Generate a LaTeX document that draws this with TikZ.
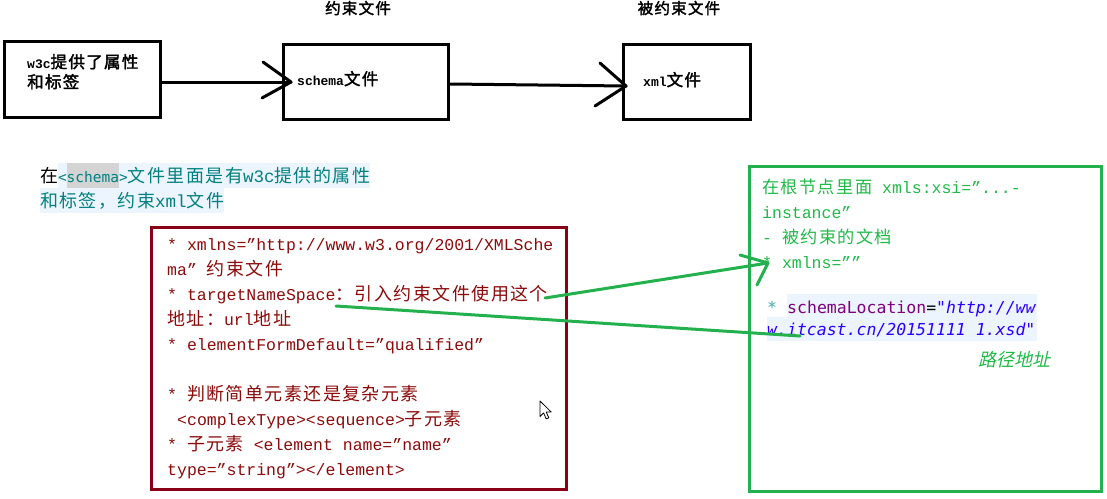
\documentclass[tikz,border=0pt]{standalone}
\usepackage{fontspec}
\setmainfont{Liberation Mono}
\newfontfamily\zhA[LetterSpace=8,AutoFakeBold=2]{Noto Sans CJK SC}
\newfontfamily\zhI[FakeSlant=0.22]{Noto Sans CJK SC}
\newfontfamily\cmono{DejaVu Sans Mono}
\newcommand\zhtxt[1]{{\zhA\fontsize{18}{25}\selectfont#1}}
\newcommand\zhgtxt[1]{{\zhA\fontsize{17.2}{25}\selectfont#1}}
\newcommand\zhbtxt[1]{{\zhA\bfseries\fontsize{16.5}{22}\selectfont#1}}
\newcommand\codefont{\cmono\fontsize{16.5}{25}\selectfont}
\newcommand\tagfont{\cmono\fontsize{14.5}{25}\selectfont}

\definecolor{boxred}{HTML}{880015}
\definecolor{paintgreen}{HTML}{22B14C}
\definecolor{redtext}{RGB}{140,10,10}
\definecolor{greentext}{RGB}{30,185,70}
\definecolor{tealtext}{RGB}{0,128,128}
\definecolor{hlblue}{RGB}{236,245,253}
\definecolor{hlgray}{RGB}{212,212,212}
\definecolor{kwpurple}{RGB}{127,0,127}
\definecolor{strblue}{RGB}{42,0,255}
\definecolor{astteal}{RGB}{63,170,170}

\begin{document}
\begin{tikzpicture}[x=1pt,y=-1pt,
  blackbox/.style={draw=black,line width=3pt,inner sep=0pt},
  boxtext/.style={anchor=base west,inner sep=0pt,font=\bfseries\fontsize{13}{20}\selectfont},
  toplabel/.style={anchor=base,inner sep=0pt},
  pen/.style={line width=3pt,line cap=round,line join=round},
  redline/.style={anchor=base west,inner sep=0pt,text=redtext,font=\fontsize{16.5}{25}\selectfont},
  greenline/.style={anchor=base west,inner sep=0pt,text=greentext,font=\fontsize{16.5}{25}\selectfont},
  hl/.style={anchor=base west,inner sep=0pt,outer sep=0pt,text height=19pt,text depth=6pt,text=tealtext,font=\fontsize{17.5}{25}\selectfont}]
\useasboundingbox (0,0) rectangle (1107,498);

% --- top row: three boxes with hand-drawn arrows ---
\node[blackbox,minimum width=156pt,minimum height=76pt] (b1) at (82,79) {};
\node[blackbox,minimum width=165pt,minimum height=75pt] (b2) at (366,82) {};
\node[blackbox,minimum width=127pt,minimum height=75pt] (b3) at (687,82) {};

\node[boxtext] (b1a) at (27,68) {w3c\zhbtxt{提供了属性}};
\node[boxtext] (b1b) at (27,88) {\zhbtxt{和标签}};
\node[boxtext] (b2t) at (297,85) {schema\zhbtxt{文件}};
\node[boxtext] (b3t) at (643,86) {xml\zhbtxt{文件}};

\node[toplabel] (l2) at (358,14) {{\zhA\bfseries\fontsize{15.5}{20}\selectfont 约束文件}};
\node[toplabel] (l3) at (679,14) {{\zhA\bfseries\fontsize{15.5}{20}\selectfont 被约束文件}};

\coordinate (tip1) at (291,82);
\coordinate (tip2) at (626,86);
\draw[pen] (b1.east |- tip1) -- (tip1);
\draw[pen] (263,62) -- (tip1) -- (262,98);
\draw[pen] (b2.east |- 0,84) -- (tip2);
\draw[pen] (600,63) -- (tip2) -- (595,106);

% --- caption above the red box ---
\node[hl,text=black] (p1) at (40,182) {\zhtxt{在}};
\node[hl,fill=hlblue] (p2) at (p1.base east) {\tagfont <};
\node[hl,fill=hlgray] (p3) at (p2.base east) {\tagfont schema};
\node[hl,fill=hlblue] (p4) at (p3.base east) {{\tagfont >}\zhtxt{文件里面是有}w3c\zhtxt{提供的属性}};
\node[hl,fill=hlblue] (p5) at (40,207) {\zhtxt{和标签，约束}xml\zhtxt{文件}};

% --- schema notes (red box) ---
\node[draw=boxred,line width=3pt,minimum width=414.5pt,minimum height=262.5pt,inner sep=0pt] (rbox) at (358.75,358.25) {};
\node[redline] (r1) at (167,250) {* xmlns="http://www.w3.org/2001/XMLSche};
\node[redline] (r2) at (167,275) {ma" \zhtxt{约束文件}};
\node[redline] (r3) at (167,300) {* targetNameSpace\zhtxt{：引入约束文件使用这个}};
\node[redline] (r4) at (167,325) {\zhtxt{地址：}url\zhtxt{地址}};
\node[redline] (r5) at (167,350) {* elementFormDefault="qualified"};
\node[redline] (r7) at (167,400) {* \zhtxt{判断简单元素还是复杂元素}};
\node[redline] (r8) at (177,425) {<complexType><sequence>\zhtxt{子元素}};
\node[redline] (r9) at (167,450) {* \zhtxt{子元素} <element name="name"};
\node[redline] (r10) at (167,475) {type="string"></element>};

% mouse pointer
\draw[fill=white,line width=0.8pt,line join=round] (540,401) -- ++(0,15.5) -- ++(3.6,-3.6) -- ++(2.6,6) -- ++(2.6,-1.1) -- ++(-2.6,-5.8) -- ++(5,0) -- cycle;

% --- xml notes (green box) ---
\node[draw=paintgreen,line width=3pt,minimum width=351.5pt,minimum height=325pt,inner sep=0pt] (gbox) at (925.25,328.5) {};
\node[greenline] (g1) at (762,193) {\zhgtxt{在根节点里面} xmls:xsi="...-};
\node[greenline] (g2) at (762,218) {instance"};
\node[greenline] (g3) at (762,243) {- \zhgtxt{被约束的文档}};
\node[greenline] (g4) at (762,268) {* xmlns=""};

\fill[hlblue] (787,294) rectangle (1037,317);
\fill[hlblue] (767,317) rectangle (1037,341);
\node[anchor=base west,inner sep=0pt,text=astteal,font=\codefont] (s0) at (767,313) {*};
\node[anchor=base west,inner sep=0pt,font=\codefont] (s1) at (787,313)
  {\textcolor{kwpurple}{schemaLocation}=\textcolor{strblue}{\itshape"http://ww}};
\node[anchor=base west,inner sep=0pt,text=strblue,font=\codefont\itshape] (s2) at (767,335)
  {w.itcast.cn/20151111 1.xsd"};
\node[anchor=base west,inner sep=0pt,text=greentext] (path) at (978,366)
  {{\zhI\fontsize{18}{25}\selectfont 路径地址}};

% --- green pen strokes linking the two boxes ---
\coordinate (a0) at (545,298);
\coordinate (atip) at (768,263);
\coordinate (c0) at (336,306);
\coordinate (c1) at (800,336);
\draw[pen,paintgreen] (a0) -- (atip);
\draw[pen,paintgreen] (740,255) -- (atip) -- (757,285);
\draw[pen,paintgreen] (c0) -- (c1);
\end{tikzpicture}
\end{document}
